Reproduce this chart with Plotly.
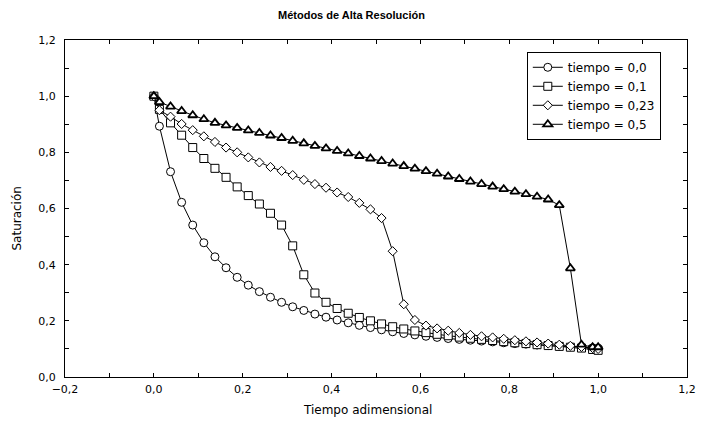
import plotly.graph_objects as go

x_vals = [0.0, 0.0125, 0.0375, 0.0625, 0.0875, 0.1125, 0.1375, 0.1625, 0.1875, 0.2125,
          0.2375, 0.2625, 0.2875, 0.3125, 0.3375, 0.3625, 0.3875, 0.4125, 0.4375, 0.4625,
          0.4875, 0.5125, 0.5375, 0.5625, 0.5875, 0.6125, 0.6375, 0.6625, 0.6875, 0.7125,
          0.7375, 0.7625, 0.7875, 0.8125, 0.8375, 0.8625, 0.8875, 0.9125, 0.9375, 0.9625,
          0.9875, 1.0]

s_t00 = [1.0, 0.893, 0.731, 0.622, 0.541, 0.478, 0.428, 0.389, 0.355, 0.327,
         0.304, 0.284, 0.266, 0.250, 0.237, 0.224, 0.213, 0.203, 0.193, 0.184,
         0.176, 0.168, 0.161, 0.155, 0.150, 0.145, 0.141, 0.137, 0.134, 0.131,
         0.128, 0.125, 0.122, 0.119, 0.117, 0.114, 0.112, 0.110, 0.108, 0.106,
         0.104, 0.103]

s_t01 = [1.0, 0.953, 0.905, 0.861, 0.817, 0.778, 0.743, 0.711, 0.677, 0.646,
         0.616, 0.583, 0.541, 0.467, 0.364, 0.299, 0.266, 0.244, 0.227, 0.212,
         0.200, 0.189, 0.179, 0.171, 0.164, 0.158, 0.152, 0.147, 0.142, 0.138,
         0.134, 0.130, 0.126, 0.122, 0.119, 0.115, 0.112, 0.109, 0.106, 0.103,
         0.098, 0.095]

s_t023 = [1.0, 0.950, 0.927, 0.901, 0.879, 0.857, 0.837, 0.817, 0.800, 0.782,
          0.764, 0.748, 0.734, 0.719, 0.702, 0.687, 0.674, 0.657, 0.641, 0.620,
          0.597, 0.566, 0.448, 0.259, 0.203, 0.183, 0.173, 0.165, 0.157, 0.150,
          0.145, 0.141, 0.136, 0.131, 0.127, 0.123, 0.119, 0.115, 0.111, 0.107,
          0.103, 0.100]

s_t05 = [1.0, 0.979, 0.963, 0.947, 0.932, 0.918, 0.905, 0.896, 0.887, 0.878,
         0.869, 0.860, 0.851, 0.841, 0.832, 0.823, 0.814, 0.805, 0.796, 0.787,
         0.778, 0.769, 0.760, 0.751, 0.742, 0.733, 0.724, 0.714, 0.705, 0.696,
         0.687, 0.678, 0.669, 0.660, 0.651, 0.642, 0.632, 0.612, 0.387, 0.115,
         0.106, 0.106]

series_names = ["tiempo = 0,0", "tiempo = 0,1", "tiempo = 0,23", "tiempo = 0,5"]
series_vals = [s_t00, s_t01, s_t023, s_t05]
symbols = ["circle", "square", "diamond", "triangle-up"]
sizes = [8, 8, 7, 8]
mlw = [1, 1, 1, 1.8]

FONT = "Liberation Sans, Arial, sans-serif"
WIDE = "DejaVu Sans, sans-serif"

fig = go.Figure()
for name, vals, sym, sz, lw in zip(series_names, series_vals, symbols, sizes, mlw):
    fig.add_trace(go.Scatter(
        x=x_vals, y=vals, name=name, mode="lines+markers",
        line=dict(color="black", width=1),
        marker=dict(symbol=sym, size=sz, color="white", line=dict(color="black", width=lw)),
    ))

axis_common = dict(
    showline=True, linecolor="black", linewidth=1, mirror="ticks",
    ticks="inside", ticklen=4, tickcolor="black", tickwidth=1,
    showgrid=False, zeroline=False, tickformat=".1f",
    tickfont=dict(family=WIDE, size=11, color="black"),
    minor=dict(dtick=0.1, ticks="inside", ticklen=4, tickcolor="black", showgrid=False),
)

fig.update_layout(
    width=708, height=428,
    margin=dict(l=65, r=14, t=40, b=51),
    paper_bgcolor="white", plot_bgcolor="white",
    separators=", ",
    showlegend=True,
    legend=dict(x=(532 - 65) / 629, y=0.965, xanchor="left", yanchor="top",
                bgcolor="white", bordercolor="black", borderwidth=1,
                font=dict(family=WIDE, size=12, color="black"),
                tracegroupgap=0),
    xaxis=dict(range=[-0.2, 1.2], dtick=0.2, tick0=0, ticklabelstandoff=2, **axis_common),
    yaxis=dict(range=[0, 1.2], dtick=0.2, tick0=0, ticklabelstandoff=6, **axis_common),
    annotations=[
        dict(text="<b>Métodos de Alta Resolución</b>", xref="paper", yref="paper",
             x=(355 - 65) / 629, y=(377 - 15) / 337, showarrow=False,
             xanchor="center", yanchor="middle",
             font=dict(family=FONT, size=11, color="black")),
        dict(text="Tiempo adimensional", xref="paper", yref="paper",
             x=(371 - 65) / 629, y=(377 - 410) / 337, showarrow=False,
             xanchor="center", yanchor="middle",
             font=dict(family=WIDE, size=12, color="black")),
        dict(text="Saturación", xref="paper", yref="paper", textangle=-90,
             x=(16 - 65) / 629, y=(377 - 219) / 337, showarrow=False,
             xanchor="center", yanchor="middle",
             font=dict(family=WIDE, size=12, color="black")),
    ],
)

fig.write_html("out.html")
